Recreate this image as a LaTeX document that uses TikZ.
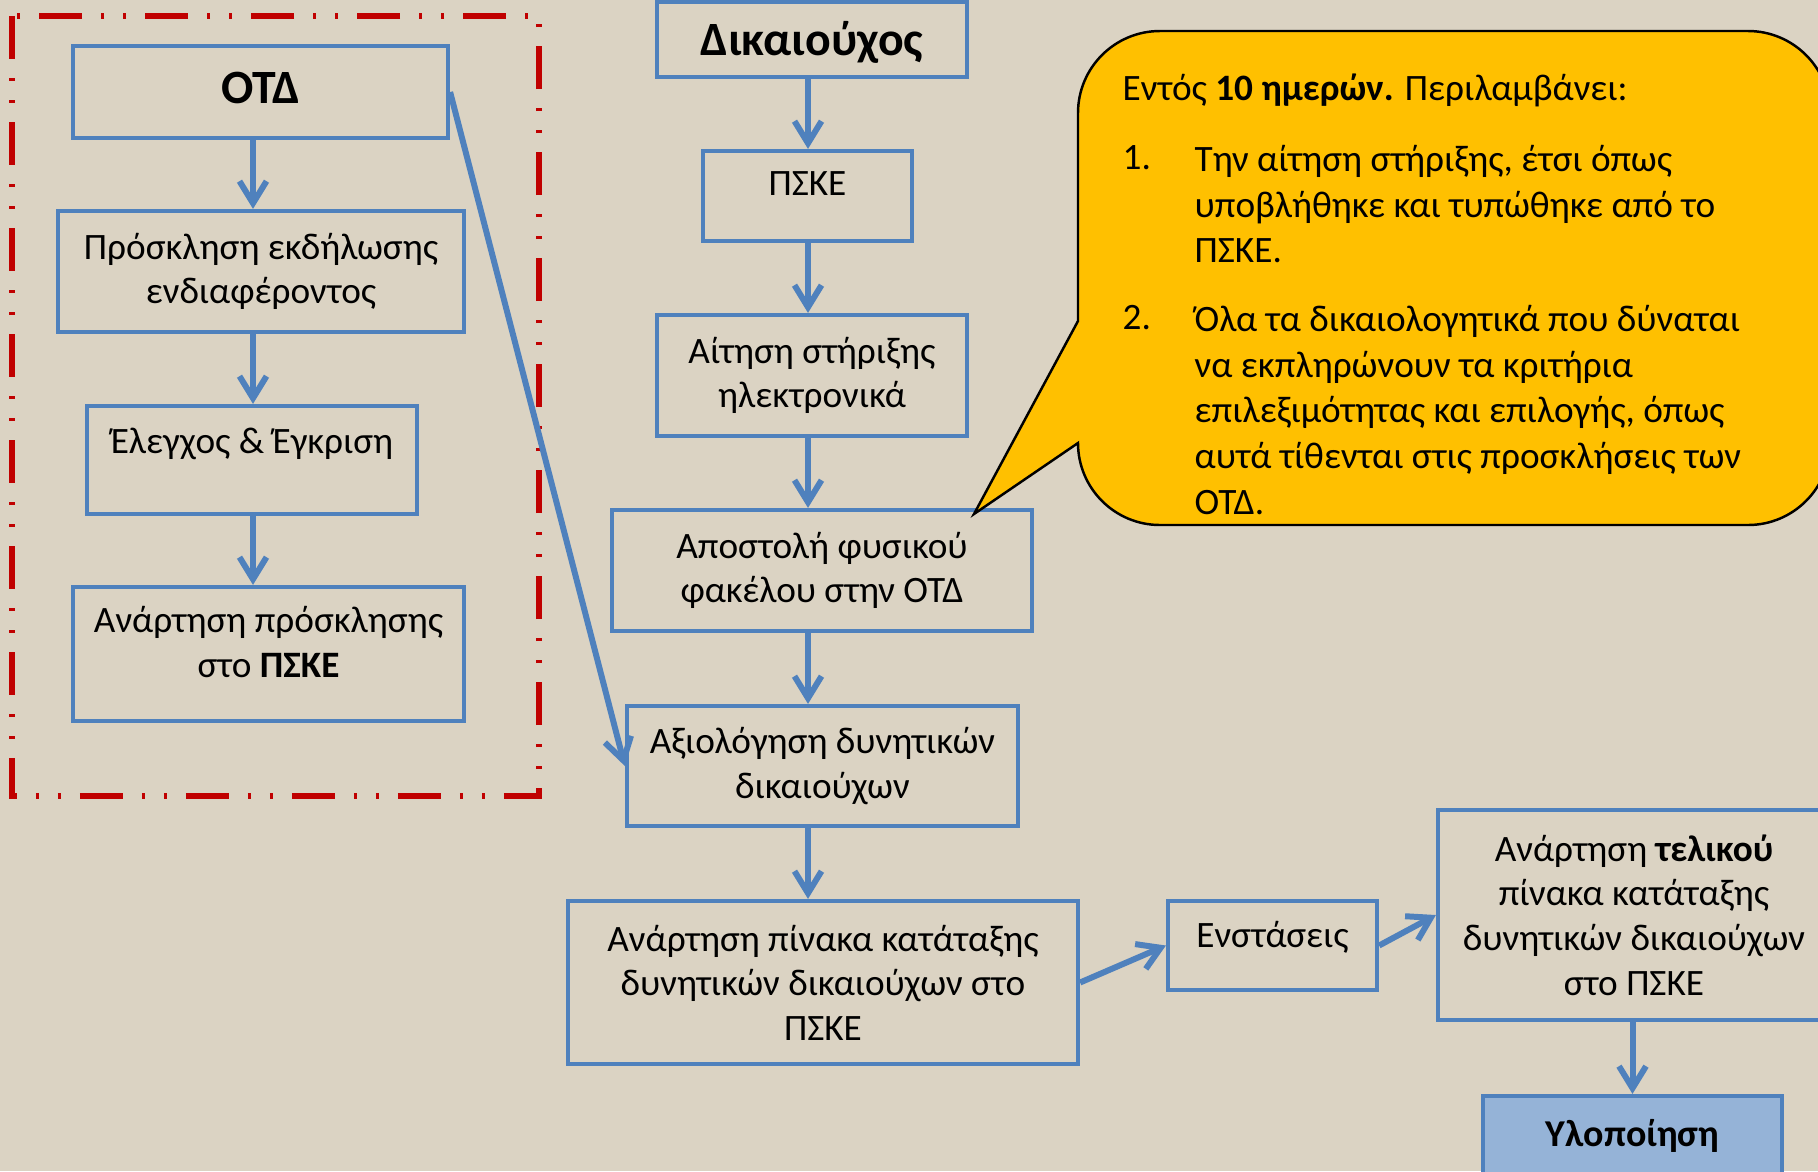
\documentclass[tikz,border=0pt]{standalone}
\usepackage{fontspec}
\setmainfont{Carlito}
\usetikzlibrary{arrows.meta}

\definecolor{bgbeige}{RGB}{219,211,195}
\definecolor{boxblue}{RGB}{79,129,189}
\definecolor{framered}{RGB}{192,0,0}
\definecolor{noteyellow}{RGB}{255,192,0}
\definecolor{implblue}{RGB}{149,179,215}

\begin{document}
\begin{tikzpicture}[
    box/.style={draw=boxblue, line width=1.2pt, align=center, inner sep=1pt,
      font=\fontsize{10.6}{12.7}\selectfont},
    title/.style={font=\bfseries\fontsize{13.6}{16}\selectfont},
    lift/.style={text depth=#1},
    flow/.style={draw=boxblue, line width=1.7pt,
      -{Straight Barb[length=2.2mm,width=2.7mm]}},
    notetext/.style={anchor=north west, inner sep=0pt, align=left,
      font=\fontsize{10.6}{12.95}\selectfont}
  ]
  \useasboundingbox (0,0) rectangle (18.18,-11.71);
  \clip (0,0) rectangle (18.18,-11.71);
  \fill[bgbeige] (0,0) rectangle (18.18,-11.71);

  % ΟΤΔ frame
  \draw[framered, line width=1.6pt,
    dash pattern=on 0.43cm off 0.19cm on 0.03cm off 0.19cm on 0.03cm off 0.19cm]
    (0.12,-0.16) rectangle (5.39,-7.96);

  \coordinate (lcol) at (2.53,0);
  \coordinate (mcol) at (8.08,0);

  % left column
  \node[box, title, lift=0.09cm, minimum width=3.75cm, minimum height=0.92cm] (ota) at (2.605,-0.92) {ΟΤΔ};
  \node[box, minimum width=4.06cm, minimum height=1.21cm] (invite) at (2.61,-2.715)
    {Πρόσκληση εκδήλωσης\\ενδιαφέροντος};
  \node[box, lift=0.38cm, minimum width=3.30cm, minimum height=1.08cm] (check) at (2.52,-4.60)
    {Έλεγχος \& Έγκριση};
  \node[box, lift=0.24cm, minimum width=3.91cm, minimum height=1.34cm] (post) at (2.685,-6.54)
    {Ανάρτηση πρόσκλησης\\στο \textbf{ΠΣΚΕ}};

  % middle column
  \node[box, title, lift=0.03cm, minimum width=3.10cm, minimum height=0.75cm] (benef) at (8.12,-0.395) {Δικαιούχος};
  \node[box, lift=0.24cm, minimum width=2.09cm, minimum height=0.90cm] (pske) at (8.075,-1.96) {ΠΣΚΕ};
  \node[box, minimum width=3.10cm, minimum height=1.21cm] (apply) at (8.12,-3.755)
    {Αίτηση στήριξης\\ηλεκτρονικά};
  \node[box, minimum width=4.20cm, minimum height=1.21cm] (send) at (8.22,-5.705)
    {Αποστολή φυσικού\\φακέλου στην ΟΤΔ};
  \node[box, minimum width=3.91cm, minimum height=1.20cm] (assess) at (8.225,-7.66)
    {Αξιολόγηση δυνητικών\\δικαιούχων};
  \node[box, minimum width=5.10cm, minimum height=1.63cm] (ranking) at (8.23,-9.825)
    {Ανάρτηση πίνακα κατάταξης\\δυνητικών δικαιούχων στο\\ΠΣΚΕ};

  % bottom right
  \node[box, lift=0.22cm, minimum width=2.09cm, minimum height=0.89cm] (objections) at (12.725,-9.455)
    {Ενστάσεις};
  \node[box, minimum width=3.92cm, minimum height=2.10cm] (final) at (16.34,-9.15)
    {Ανάρτηση \textbf{τελικού}\\πίνακα κατάταξης\\δυνητικών δικαιούχων\\στο ΠΣΚΕ};
  \node[box, fill=implblue, minimum width=2.99cm, minimum height=0.79cm,
    font=\bfseries\fontsize{10.8}{13}\selectfont] (impl) at (16.325,-11.355) {Υλοποίηση};

  % arrows
  \draw[flow] (ota.south -| lcol) -- (invite.north -| lcol);
  \draw[flow] (invite.south -| lcol) -- (check.north -| lcol);
  \draw[flow] (check.south -| lcol) -- (post.north -| lcol);
  \draw[flow] (ota.east) -- (assess.west);
  \draw[flow] (benef.south -| mcol) -- (pske.north -| mcol);
  \draw[flow] (pske.south -| mcol) -- (apply.north -| mcol);
  \draw[flow] (apply.south -| mcol) -- (send.north -| mcol);
  \draw[flow] (send.south -| mcol) -- (assess.north -| mcol);
  \draw[flow] (assess.south -| mcol) -- (ranking.north -| mcol);
  \draw[flow] (ranking.east) -- (objections.west);
  \draw[flow] (objections.east) -- (final.west);
  \draw[flow] (final.south -| impl) -- (impl.north);

  % callout
  \coordinate (tip) at (9.74,-5.14);
  \draw[fill=noteyellow, line width=0.7pt]
    (10.78,-4.43) arc (180:270:0.82) -- (17.48,-5.25) arc (270:360:0.82)
    -- (18.30,-1.13) arc (0:90:0.82) -- (11.60,-0.31) arc (90:180:0.82)
    -- (10.78,-3.21) -- (tip) -- cycle;
  \node[notetext] (head) at (11.22,-0.73) {Εντός \textbf{10 ημερών.} Περιλαμβάνει:};
  \node[notetext] (num1) at (11.22,-1.45) {1.};
  \node[notetext] (item1) at (11.94,-1.45)
    {Την αίτηση στήριξης, έτσι όπως\\υποβλήθηκε και τυπώθηκε από το\\ΠΣΚΕ.};
  \node[notetext] (num2) at (11.22,-3.05) {2.};
  \node[notetext] (item2) at (11.94,-3.05)
    {Όλα τα δικαιολογητικά που δύναται\\να εκπληρώνουν τα κριτήρια\\επιλεξιμότητας και επιλογής, όπως\\αυτά τίθενται στις προσκλήσεις των\\ΟΤΔ.};
\end{tikzpicture}
\end{document}
